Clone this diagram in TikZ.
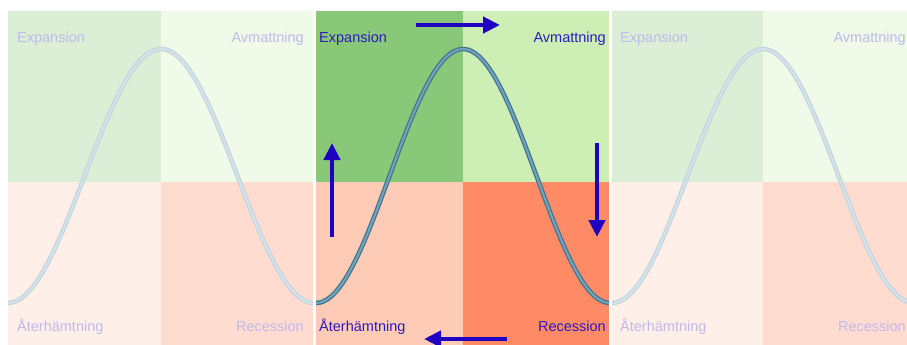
\documentclass[tikz,border=0pt]{standalone}
\usepackage{fontspec}
\setmainfont{Liberation Sans}
\usetikzlibrary{arrows.meta}
\definecolor{cycExpFill}{HTML}{88C878}
\definecolor{cycAvmFill}{HTML}{CDEFB5}
\definecolor{cycAtrFill}{HTML}{FECBB6}
\definecolor{cycRecFill}{HTML}{FF8B66}
\definecolor{cycCurveLine}{HTML}{44778F}
\definecolor{cycCurveCore}{HTML}{72A5BC}
\definecolor{cycText}{HTML}{2D1BBC}
\definecolor{cycArrow}{HTML}{2000C0}

% one phase panel: #1 prefix, #2 left x, #3 split x, #4 right x, #5 text inset
\newcommand{\cyclepanel}[5]{%
    \fill[cycExpFill] (#2,11) rectangle (#3,182);
    \fill[cycAvmFill] (#3,11) rectangle (#4,182);
    \fill[cycAtrFill] (#2,182) rectangle (#3,345);
    \fill[cycRecFill] (#3,182) rectangle (#4,345);
    \draw[curve_out] plot[domain=#2:#4, samples=80] (\x, {176-127*cos((\x-#3)/(#3-#2)*180)});
    \draw[curve_in] plot[domain=#2:#4, samples=80] (\x, {176-127*cos((\x-#3)/(#3-#2)*180)});
    \node[phase, anchor=base west] (#1exp) at (#2+#5,43) {Expansion};
    \node[phase, anchor=base east] (#1avm) at (#4-#5,43) {Avmattning};
    \node[phase, anchor=base west] (#1atr) at (#2+#5,331) {Återhämtning};
    \node[phase, anchor=base east] (#1rec) at (#4-#5,331) {Recession};
}

\begin{document}
\begin{tikzpicture}[
    x=1pt, y=-1pt,
    phase/.style={
        inner sep=0pt,
        text=cycText,
        font=\fontsize{14.5}{17}\selectfont,
    },
    curve_out/.style={cycCurveLine, line width=4.6pt},
    curve_in/.style={cycCurveCore, line width=2pt},
    turn/.style={
        -{Triangle[length=17pt, width=16pt]},
        line width=4.5pt,
        cycArrow,
    },
]
    \useasboundingbox[fill=white] (0,0) rectangle (907,345);
    \clip (0,0) rectangle (907,345);

    % === Faded copies ===
    \begin{scope}[transparency group, opacity=0.3]
        \cyclepanel{left}{8}{161}{313}{9}
        \cyclepanel{right}{612}{763}{914}{8}
    \end{scope}

    % === Main panel ===
    \cyclepanel{mid}{316}{463}{609}{3}

    % Turning arrows
    \coordinate (topA) at (416,25);
    \coordinate (topB) at (500,25);
    \coordinate (rightA) at (597,143);
    \coordinate (rightB) at (597,237);
    \coordinate (botA) at (507,339);
    \coordinate (botB) at (424,339);
    \coordinate (leftA) at (332,237);
    \coordinate (leftB) at (332,143);
    \draw[turn] (topA) -- (topB);
    \draw[turn] (rightA) -- (rightB);
    \draw[turn] (botA) -- (botB);
    \draw[turn] (leftA) -- (leftB);

\end{tikzpicture}
\end{document}
